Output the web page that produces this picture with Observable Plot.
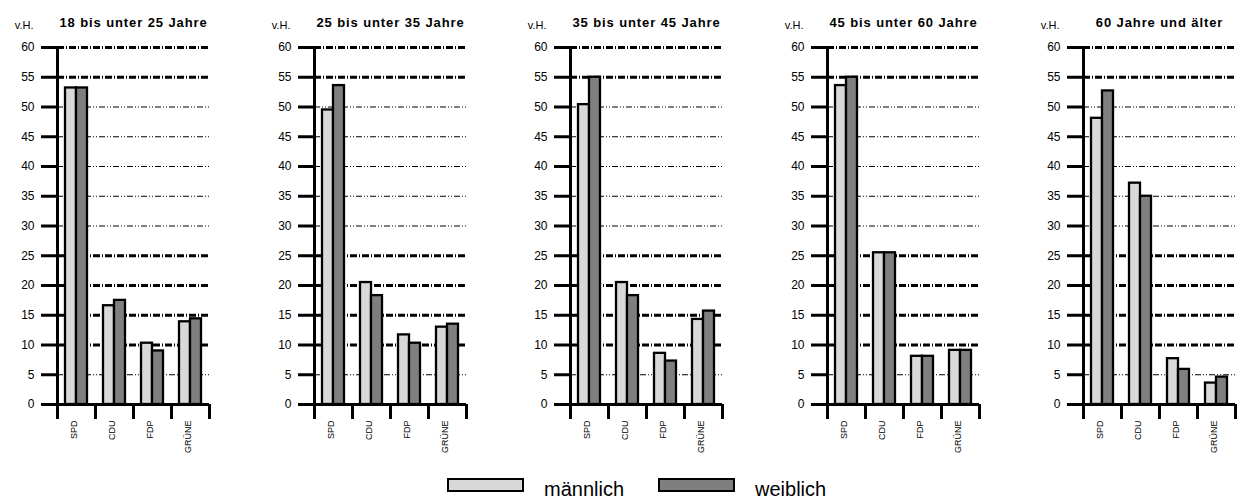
<!DOCTYPE html>
<html><head><meta charset="utf-8">
<script src="https://cdn.jsdelivr.net/npm/d3@7"></script>
<script src="https://cdn.jsdelivr.net/npm/@observablehq/plot@0.6"></script>
<style>
body{margin:0;background:#fff;font-family:"Liberation Sans",Arial,sans-serif;}
#wrap{position:relative;width:1237px;height:500px;overflow:hidden;}
.panel{position:absolute;top:0;}
.sw{position:absolute;box-sizing:border-box;border:2.5px solid #000;width:77px;height:14px;top:478px;}
.lt{position:absolute;top:479px;font-size:20px;line-height:20px;color:#000;white-space:nowrap;}
</style></head><body>
<div id="wrap"></div>
<script>
const parties = ["SPD", "CDU", "FDP", "GRÜNE"];
const sexes = ["männlich", "weiblich"];
const ageGroups = ["18 bis unter 25 Jahre", "25 bis unter 35 Jahre", "35 bis unter 45 Jahre", "45 bis unter 60 Jahre", "60 Jahre und älter"];
const maleValues = [
  [53.2, 16.6, 10.3, 13.9],
  [49.5, 20.5, 11.7, 13.0],
  [50.4, 20.5, 8.6, 14.3],
  [53.6, 25.5, 8.1, 9.1],
  [48.1, 37.2, 7.7, 3.6]
];
const femaleValues = [
  [53.2, 17.5, 9.0, 14.4],
  [53.6, 18.3, 10.3, 13.5],
  [55.0, 18.3, 7.3, 15.7],
  [55.0, 25.5, 8.1, 9.1],
  [52.7, 35.0, 5.9, 4.6]
];
const yTicks = [0, 5, 10, 15, 20, 25, 30, 35, 40, 45, 50, 55, 60];
const heavyGrid = [10, 15, 20, 25, 55, 60];
const lightGrid = [5, 30, 35, 40, 45, 50];
const sexColors = ["#d8d8d8", "#7f7f7f"];
const unitLabel = "v.H.";

const wrap = document.getElementById("wrap");
const font = '"Liberation Sans", Arial, sans-serif';

ageGroups.forEach((group, gi) => {
  const rows = [];
  parties.forEach((p, pi) => {
    rows.push({party: p, sex: sexes[0], value: maleValues[gi][pi]});
    rows.push({party: p, sex: sexes[1], value: femaleValues[gi][pi]});
  });
  const chart = Plot.plot({
    width: 213, height: 470,
    marginLeft: 57, marginRight: 4, marginTop: 47, marginBottom: 66,
    x: {domain: parties, padding: 0, axis: null},
    y: {domain: [0, 60], axis: null},
    color: {domain: sexes, range: sexColors},
    style: {fontFamily: font, background: "transparent", overflow: "visible", color: "#000"},
    marks: [
      Plot.ruleY(lightGrid, {stroke: "#000", strokeWidth: 1, strokeDasharray: "6,2,1,2,1,2"}),
      Plot.ruleY(heavyGrid, {stroke: "#000", strokeWidth: 3, strokeDasharray: "7,2,1,2"}),
      Plot.barY(rows.filter(d => d.sex === sexes[0]), {x: "party", y: "value", fill: "sex", stroke: "#000", strokeWidth: 2.3, insetLeft: 8, insetRight: 19}),
      Plot.barY(rows.filter(d => d.sex === sexes[1]), {x: "party", y: "value", fill: "sex", stroke: "#000", strokeWidth: 2.3, insetLeft: 19, insetRight: 8}),
      Plot.ruleY([0], {stroke: "#000", strokeWidth: 3}),
      Plot.ruleX([parties[0]], {y1: 0, y2: 60, dx: -19, insetTop: 15, stroke: "#000", strokeWidth: 3}),
      Plot.ruleX(parties.slice(1), {y1: 0, y2: 0, dx: -19, insetTop: 15, stroke: "#000", strokeWidth: 3}),
      Plot.ruleX([parties[parties.length - 1]], {y1: 0, y2: 0, dx: 19, insetTop: 15, stroke: "#000", strokeWidth: 3}),
      Plot.axisY({ticks: yTicks, tickSize: 16, strokeWidth: 3, tickPadding: 7, fontSize: 12, fill: "#000", label: null}),
      Plot.axisX({tickSize: 0, tickRotate: -90, tickPadding: 16, fontSize: 9, fill: "#000", dx: -2, label: null}),
      Plot.text([group], {text: d => d, frameAnchor: "top", dy: -30, fontSize: 13, fontWeight: "bold", fill: "#000"}),
      Plot.text([unitLabel], {text: d => d, frameAnchor: "top-left", textAnchor: "end", dx: -24, dy: -26, fontSize: 11, fill: "#000"})
    ]
  });
  d3.select(chart).selectAll("text").filter(function() { return this.textContent === group; })
    .style("letter-spacing", "0.9px");
  chart.classList.add("panel");
  chart.style.left = (Math.round(gi * 256.5)) + "px";
  wrap.appendChild(chart);
});

sexes.forEach((s, i) => {
  const sw = document.createElement("div");
  sw.className = "sw";
  sw.style.left = (447 + i * 211) + "px";
  sw.style.background = sexColors[i];
  wrap.appendChild(sw);
  const t = document.createElement("div");
  t.className = "lt";
  t.style.left = (544 + i * 211) + "px";
  t.textContent = s;
  wrap.appendChild(t);
});
</script>
</body></html>
